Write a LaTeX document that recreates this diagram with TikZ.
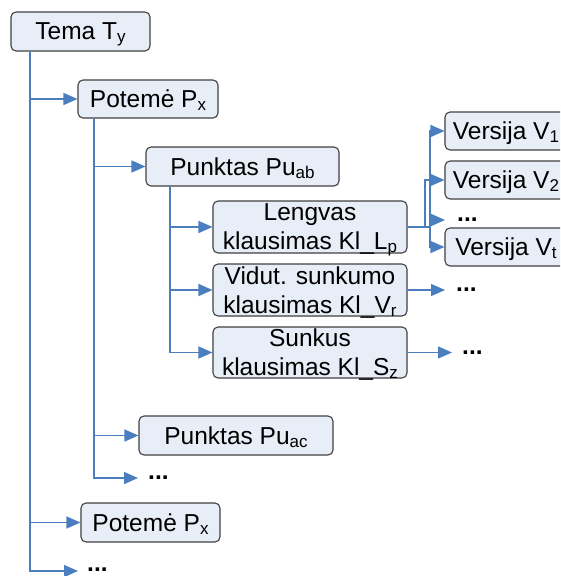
\documentclass[tikz,border=0pt]{standalone}
\usepackage{fontspec}
\setmainfont{Liberation Sans}
\usetikzlibrary{arrows.meta}
\definecolor{boxfill}{HTML}{E8EEF7}
\definecolor{boxline}{HTML}{404040}
\definecolor{connc}{HTML}{4A7EBF}
\newcommand\sbs[1]{\raisebox{-0.12em}{\fontsize{17}{17}\selectfont #1}}
\begin{document}
\begin{tikzpicture}[x=1pt,y=-1pt,
  box/.style={draw=boxline, line width=1.1pt, fill=boxfill, rounded corners=5pt,
    inner sep=0pt, align=center, text depth=0pt, font=\fontsize{24.5}{29}\selectfont},
  arr/.style={draw=connc, line width=1.4pt, -{Triangle[length=14pt,width=12pt]}},
  dotsn/.style={inner sep=0pt, anchor=west, font=\fontsize{24.5}{29}\selectfont\bfseries}]
\useasboundingbox (0,0) rectangle (560,576);
\clip (0,0) rectangle (560,576);
% boxes
\node[box, minimum width=139pt, minimum height=39pt] (tema) at (80.5,31.5) {Tema T\sbs{y}};
\node[box, minimum width=140pt, minimum height=38pt] (pot1) at (148,99) {Potemė P\sbs{x}};
\node[box, minimum width=193pt, minimum height=39pt] (puab) at (242.5,166.5) {Punktas Pu\sbs{ab}};
\node[box, minimum width=194pt, minimum height=52pt] (leng) at (310,227) {Lengvas\\klausimas Kl\_L\sbs{p}};
\node[box, minimum width=194pt, minimum height=52pt] (vid) at (310,290) {Vidut. sunkumo\\klausimas Kl\_V\sbs{r}};
\node[box, minimum width=194pt, minimum height=51pt] (sunk) at (310,352.5) {Sunkus\\klausimas Kl\_S\sbs{z}};
\node[box, minimum width=122pt, minimum height=38pt] (v1) at (506,131) {Versija V\sbs{1}};
\node[box, minimum width=122pt, minimum height=38pt] (v2) at (506,180) {Versija V\sbs{2}};
\node[box, minimum width=122pt, minimum height=38pt] (vt) at (506,247) {Versija V\sbs{t}};
\node[box, minimum width=194pt, minimum height=39pt] (puac) at (236,435.5) {Punktas Pu\sbs{ac}};
\node[box, minimum width=139pt, minimum height=39pt] (pot2) at (150.5,522.5) {Potemė P\sbs{x}};
% dots
\node[dotsn] (d1) at (457,220) {...};
\node[dotsn] (d2) at (456,290) {...};
\node[dotsn] (d3) at (462,352.5) {...};
\node[dotsn] (d4) at (148,478) {...};
\node[dotsn] (d5) at (87,570) {...};
% helper coordinates
\coordinate (c0) at (30,0);
\coordinate (c1) at (94,0);
\coordinate (c2) at (170,0);
\coordinate (j1) at (425,227);
\coordinate (j2) at (430,227);
\coordinate (t1) at (445,220);
\coordinate (t2) at (445,290);
\coordinate (t3) at (452,352.5);
\coordinate (t4) at (138,478);
\coordinate (t5) at (78,571);
% connectors
\draw[arr] (c0 |- tema.south) |- (pot1.west);
\draw[arr] (c0 |- tema.south) |- (pot2.west);
\draw[arr] (c0 |- tema.south) |- (t5);
\draw[arr] (c1 |- pot1.south) |- (puab.west);
\draw[arr] (c1 |- pot1.south) |- (puac.west);
\draw[arr] (c1 |- pot1.south) |- (t4);
\draw[arr] (c2 |- puab.south) |- (leng.west);
\draw[arr] (c2 |- puab.south) |- (vid.west);
\draw[arr] (c2 |- puab.south) |- (sunk.west);
\draw[arr] (leng.east) -- (j1) |- (v2.west);
\draw[arr] (leng.east) -- (j2) |- (v1.west);
\draw[arr] (j2) |- (vt.west);
\draw[arr] (j2) |- (t1);
\draw[arr] (vid.east) -- (t2);
\draw[arr] (sunk.east) -- (t3);
\end{tikzpicture}
\end{document}
